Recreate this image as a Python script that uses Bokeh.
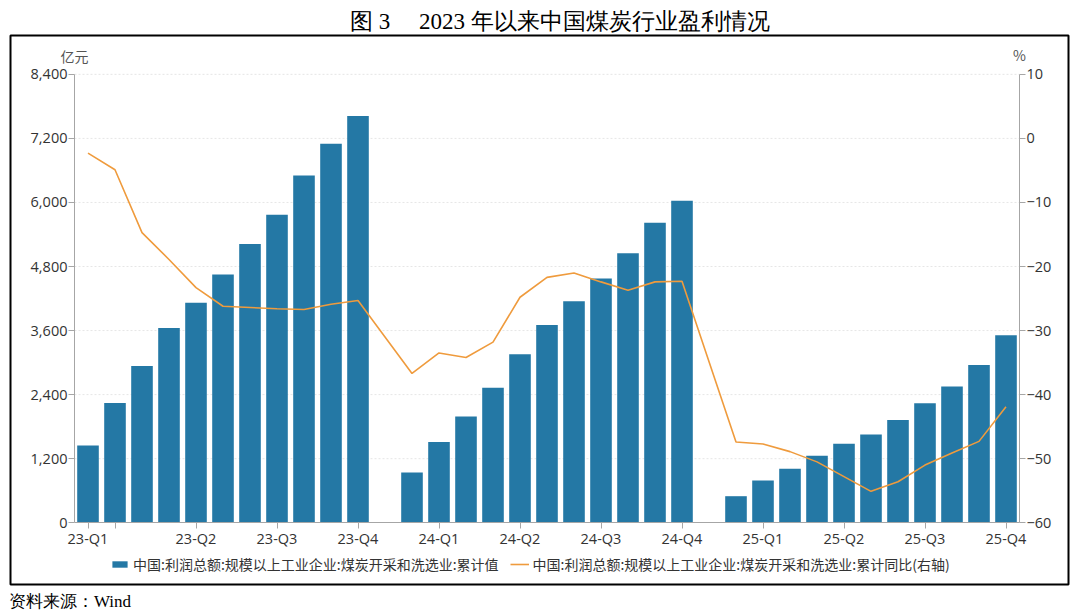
from bokeh.plotting import figure
from bokeh.models import (Range1d, LinearAxis, FixedTicker, NumeralTickFormatter, Label, Title,
                          Legend, LegendItem, ColumnDataSource)
from bokeh.embed import file_html
from bokeh.resources import INLINE

months = ["2023-02", "2023-03", "2023-04", "2023-05", "2023-06", "2023-07", "2023-08",
          "2023-09", "2023-10", "2023-11", "2023-12",
          "2024-01", "2024-02", "2024-03", "2024-04", "2024-05", "2024-06", "2024-07",
          "2024-08", "2024-09", "2024-10", "2024-11", "2024-12",
          "2025-01", "2025-02", "2025-03", "2025-04", "2025-05", "2025-06", "2025-07",
          "2025-08", "2025-09", "2025-10", "2025-11", "2025-12"]

# 累计值 (亿元); January not published
profit = [1448, 2243, 2938, 3646, 4119, 4652, 5224, 5770, 6504, 7100, 7622,
          None, 939, 1511, 1988, 2528, 3156, 3702, 4149, 4577, 5050, 5621, 6031,
          None, 497, 790, 1013, 1256, 1479, 1653, 1926, 2237, 2554, 2957, 3510]

# 累计同比 (%)
yoy = [-2.3, -4.9, -14.7, -18.9, -23.3, -26.2, -26.4, -26.6, -26.7, -25.9, -25.3,
       None, -36.7, -33.5, -34.2, -31.8, -24.8, -21.7, -21.0, -22.4, -23.7, -22.4, -22.3,
       None, -47.4, -47.7, -48.9, -50.5, -52.8, -55.1, -53.6, -51.0, -49.1, -47.3, -41.9]

tick_months = ["2023-02", "2023-03", "2023-06", "2023-09", "2023-12", "2024-03", "2024-06",
               "2024-09", "2024-12", "2025-03", "2025-06", "2025-09", "2025-12"]
tick_labels = ["23-Q1", "", "23-Q2", "23-Q3", "23-Q4", "24-Q1", "24-Q2",
               "24-Q3", "24-Q4", "25-Q1", "25-Q2", "25-Q3", "25-Q4"]

left_ticks = [0, 1200, 2400, 3600, 4800, 6000, 7200, 8400]
right_ticks = [-60, -50, -40, -30, -20, -10, 0, 10]

bar_name = "中国:利润总额:规模以上工业企业:煤炭开采和洗选业:累计值"
line_name = "中国:利润总额:规模以上工业企业:煤炭开采和洗选业:累计同比(右轴)"
title_text = "图 3\u3000 2023 年以来中国煤炭行业盈利情况"
source_text = "资料来源：Wind"

BAR = "#2478a5"
ORANGE = "#ef9b3d"
AX = "#a6a6a6"
TXT = "#333333"
TICK_FONT = "Open Sans"
CJK = "Noto Sans CJK SC"
SERIF = "Liberation Serif"

# geometry (pixels): outer box and the inner plotting area of the chart
W, H = 1080, 616
BOX_L, BOX_R, BOX_T, BOX_B = 10, 1068, 35, 586
IN_L, IN_R, IN_T, IN_B = 74, 1019, 74, 524

n = len(months)
x0, x1 = -0.5, n - 0.5
xpp = (x1 - x0) / (IN_R - IN_L)
ylo, yhi = left_ticks[0], left_ticks[-1]
ypp = (yhi - ylo) / (IN_B - IN_T)
rlo, rhi = right_ticks[0], right_ticks[-1]
rpp = (rhi - rlo) / (IN_B - IN_T)

idx = list(range(n))
bar_src = ColumnDataSource(dict(x=[i for i, v in zip(idx, profit) if v is not None],
                                top=[v for v in profit if v is not None]))
line_src = ColumnDataSource(dict(x=[i for i, v in zip(idx, yoy) if v is not None],
                                 y=[v for v in yoy if v is not None]))

p = figure(width=W, height=H, output_backend="svg", toolbar_location=None,
           x_range=Range1d(x0 - (IN_L - BOX_L) * xpp, x1 + (BOX_R - IN_R) * xpp),
           y_range=Range1d(ylo - (BOX_B - IN_B) * ypp, yhi + (IN_T - BOX_T) * ypp),
           min_border_left=BOX_L, min_border_right=W - BOX_R,
           min_border_top=BOX_T, min_border_bottom=H - BOX_B,
           outline_line_color="black", outline_line_width=2,
           background_fill_color="white", border_fill_color="white")
p.extra_y_ranges = {"pct": Range1d(rlo - (BOX_B - IN_B) * rpp, rhi + (IN_T - BOX_T) * rpp)}
p.xgrid.visible = False
p.ygrid.visible = False

# dotted horizontal grid lines at the left-axis ticks
grid_y = left_ticks[1:]
p.segment(x0=[x0] * len(grid_y), x1=[x1] * len(grid_y), y0=grid_y, y1=grid_y,
          line_color="#e6e6e6", line_dash="2 2", line_width=1)

bars = p.vbar(x="x", top="top", width=0.8, source=bar_src, fill_color=BAR, line_color=None)
ln = p.line(x="x", y="y", source=line_src, y_range_name="pct", line_color=ORANGE, line_width=1.6)

# axes drawn at fixed positions inside the boxed area
xa = p.xaxis[0]
xa.fixed_location = ylo
xa.bounds = (x0, x1)
xa.ticker = FixedTicker(ticks=[months.index(m) for m in tick_months])
xa.major_label_overrides = {months.index(m): lab for m, lab in zip(tick_months, tick_labels)}
ya = p.yaxis[0]
ya.fixed_location = x0
ya.bounds = (ylo, yhi)
ya.ticker = FixedTicker(ticks=left_ticks)
ya.formatter = NumeralTickFormatter(format="0,0")
ra = LinearAxis(y_range_name="pct", ticker=FixedTicker(ticks=right_ticks),
                fixed_location=x1, bounds=(rlo, rhi))
p.add_layout(ra, "right")

for ax in (xa, ya, ra):
    ax.axis_line_color = AX
    ax.major_tick_line_color = AX
    ax.minor_tick_line_color = None
    ax.major_tick_out = 6
    ax.major_tick_in = 0
    ax.major_label_text_color = TXT
    ax.major_label_text_font = TICK_FONT
    ax.major_label_text_font_size = "14.5px"
    ax.major_label_standoff = 1
xa.major_label_standoff = 0

# unit labels
p.add_layout(Label(x=x0, y=yhi, y_offset=18, text="亿元", text_align="center",
                   text_baseline="middle", text_font=CJK, text_font_size="14px",
                   text_color="#555555"))
p.add_layout(Label(x=x1, y=yhi, y_offset=19, text="%", text_align="center",
                   text_baseline="middle", text_font=CJK, text_font_size="14px",
                   text_color="#555555"))

# title and source
p.title.text = title_text
p.title.align = "left"
p.title.offset = 339.5
p.title.standoff = 4
p.title.text_font = SERIF
p.title.text_font_size = "23px"
p.title.text_font_style = "normal"
p.title.text_color = "black"
p.add_layout(Title(text=source_text, align="left", offset=-1.5, standoff=11, text_font=SERIF,
                   text_font_size="17px", text_font_style="normal", text_color="black"), "below")

legend = Legend(items=[LegendItem(label=bar_name, renderers=[bars]),
                       LegendItem(label=line_name, renderers=[ln])],
                orientation="horizontal", location=(100, 10),
                label_text_font=CJK, label_text_font_size="14px", label_text_color=TXT,
                border_line_color=None, background_fill_alpha=0, padding=0, margin=0,
                spacing=11, glyph_width=19, glyph_height=8, label_standoff=4)
p.add_layout(legend)

open("out.html", "w").write(file_html(p, INLINE))
